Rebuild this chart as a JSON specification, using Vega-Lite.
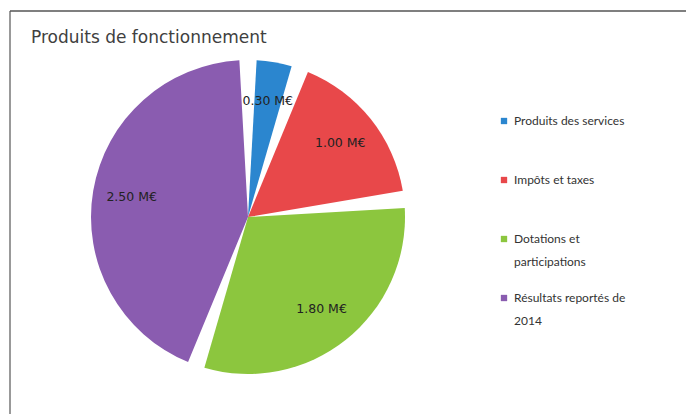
{
  "$schema": "https://vega.github.io/schema/vega-lite/v6.json",
  "width": 687,
  "height": 415,
  "autosize": {"type": "fit", "contains": "padding"},
  "padding": {"left": 9, "top": 10, "right": 0, "bottom": 0},
  "background": "white",
  "view": {"stroke": null, "fill": "white"},
  "config": {
    "font": "Lato",
    "style": {"guide-label": {"lineHeight": 23}}
  },
  "title": {
    "text": "Produits de fonctionnement",
    "anchor": "start",
    "frame": "group",
    "orient": "top",
    "offset": -37,
    "dx": 21,
    "fontSize": 17,
    "fontWeight": "normal",
    "color": "#404040",
    "font": "DejaVu Sans"
  },
  "data": {
    "values": [
      {"categorie": "Produits des services", "montant": 0.30, "ordre": 1},
      {"categorie": "Impôts et taxes", "montant": 1.00, "ordre": 2},
      {"categorie": "Dotations et participations", "montant": 1.80, "ordre": 3},
      {"categorie": "Résultats reportés de 2014", "montant": 2.50, "ordre": 4}
    ]
  },
  "transform": [
    {"calculate": "format(datum.montant, '.2f') + ' M€'", "as": "etiquette"}
  ],
  "layer": [
    {
      "data": {"values": [{"cadre": "gauche"}]},
      "mark": {"type": "rule", "color": "#777777", "strokeWidth": 1.5},
      "encoding": {"x": {"value": 0}}
    },
    {
      "data": {"values": [{"cadre": "haut"}]},
      "mark": {"type": "rule", "color": "#555555", "strokeWidth": 1.5},
      "encoding": {"y": {"value": 0}}
    },
    {
      "mark": {"type": "arc", "outerRadius": 157, "padAngle": 0.11, "x": 238, "y": 206},
      "encoding": {
        "theta": {"field": "montant", "type": "quantitative", "stack": true},
        "order": {"field": "ordre", "type": "quantitative"},
        "color": {
          "field": "categorie",
          "type": "nominal",
          "scale": {
            "domain": ["Produits des services", "Impôts et taxes", "Dotations et participations", "Résultats reportés de 2014"],
            "range": ["#2b86cf", "#e8484a", "#8cc63e", "#8a5cb0"]
          },
          "legend": {
            "orient": "none",
            "legendX": 488,
            "legendY": 104,
            "title": null,
            "symbolType": "square",
            "symbolSize": 40,
            "symbolStrokeWidth": 0,
            "labelFont": "Lato",
            "labelFontSize": 12,
            "labelColor": "#333333",
            "labelOffset": 4,
            "labelLimit": 200,
            "rowPadding": 24,
            "gridAlign": "all",
            "labelExpr": "datum.label == 'Dotations et participations' ? ['Dotations et', 'participations'] : datum.label == 'Résultats reportés de 2014' ? ['Résultats reportés de', '2014'] : datum.label"
          }
        }
      }
    },
    {
      "mark": {"type": "text", "radius": 118, "x": 238, "y": 206, "fontSize": 12.5, "color": "#222222", "font": "DejaVu Sans"},
      "encoding": {
        "theta": {"field": "montant", "type": "quantitative", "stack": true},
        "order": {"field": "ordre", "type": "quantitative"},
        "text": {"field": "etiquette", "type": "nominal"}
      }
    }
  ]
}
